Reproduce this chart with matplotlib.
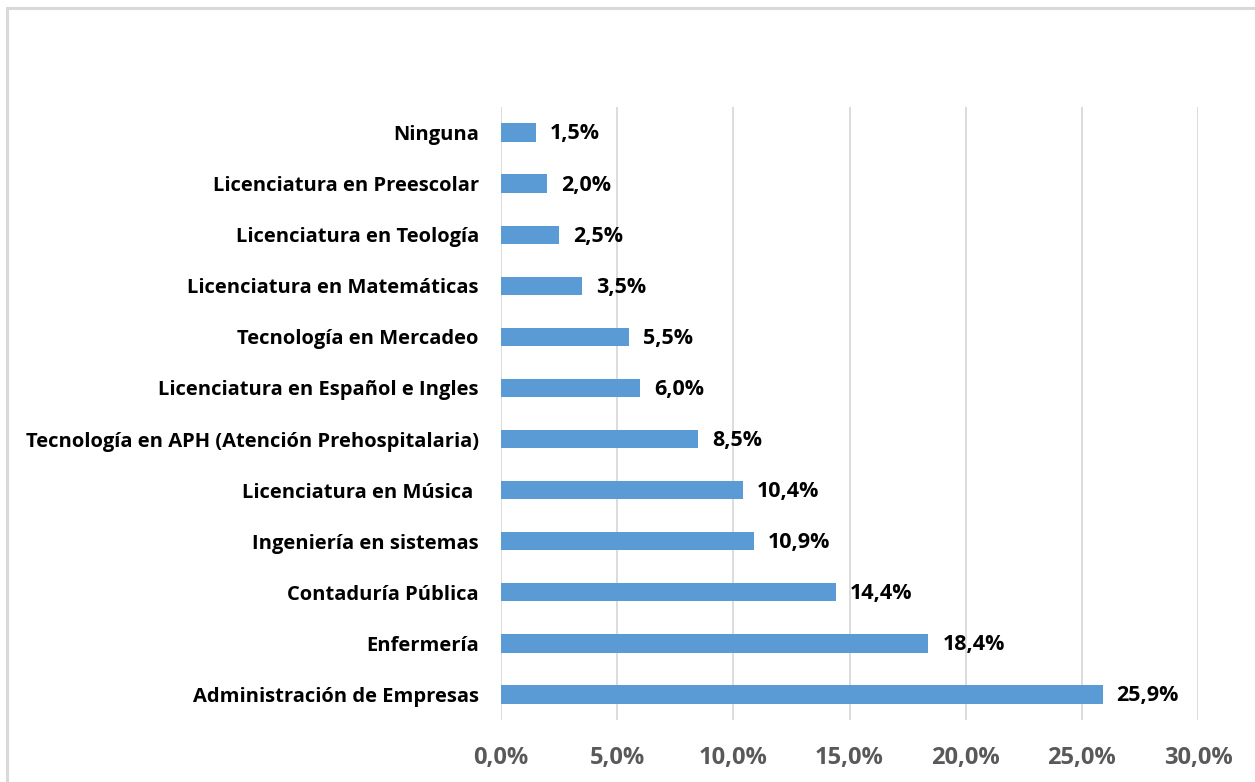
import matplotlib
matplotlib.use('Agg')
import matplotlib.pyplot as plt
import matplotlib.patches as mpatches
from matplotlib.ticker import FuncFormatter

plt.rcParams['font.family'] = ['Open Sans', 'DejaVu Sans']

carreras = ['Administración de Empresas', 'Enfermería', 'Contaduría Pública',
            'Ingeniería en sistemas', 'Licenciatura en Música ',
            'Tecnología en APH (Atención Prehospitalaria)',
            'Licenciatura en Español e Ingles', 'Tecnología en Mercadeo',
            'Licenciatura en Matemáticas', 'Licenciatura en Teología',
            'Licenciatura en Preescolar', 'Ninguna']
porcentajes = [25.9, 18.4, 14.4, 10.9, 10.4, 8.5, 6.0, 5.5, 3.5, 2.5, 2.0, 1.5]
ticks = [0, 5, 10, 15, 20, 25, 30]

W, H = 1255, 782
fig = plt.figure(figsize=(W / 100, H / 100), dpi=100)
ax = fig.add_axes([501 / W, (H - 720) / H, 697 / W, 613 / H])

# outer chart frame (light gray)
frame = mpatches.Rectangle((7 / W, -0.05), 1.2, (H - 8) / H + 0.05,
                           transform=fig.transFigure, fill=False,
                           edgecolor='#D9D9D9', linewidth=2.2, clip_on=False)
fig.patches.append(frame)

ypos = list(range(len(carreras)))
ax.barh(ypos, porcentajes, height=0.36, color='#5B9BD5', zorder=3)

for y, v in zip(ypos, porcentajes):
    ax.annotate(f'{v:.1f}%'.replace('.', ','), xy=(v, y), xytext=(10, -1),
                textcoords='offset points', ha='left', va='center',
                fontsize=15.5, fontweight='bold', color='#000000')

ax.set_xlim(0, 30)
ax.set_ylim(-0.5, len(carreras) - 0.5)
ax.set_xticks(ticks)
ax.xaxis.set_major_formatter(FuncFormatter(lambda x, p: f'{x:.1f}%'.replace('.', ',')))
ax.set_yticks(ypos)
ax.set_yticklabels(carreras)

ax.grid(axis='x', color='#D9D9D9', linewidth=1.3, zorder=0)
for s in ax.spines.values():
    s.set_visible(False)

ax.tick_params(axis='x', length=0, pad=19, labelsize=17, labelcolor='#595959')
ax.tick_params(axis='y', length=0, pad=16, labelsize=14.5, labelcolor='#000000')
for lab in ax.get_xticklabels() + ax.get_yticklabels():
    lab.set_fontweight('bold')

fig.savefig('out.png', dpi=100)
